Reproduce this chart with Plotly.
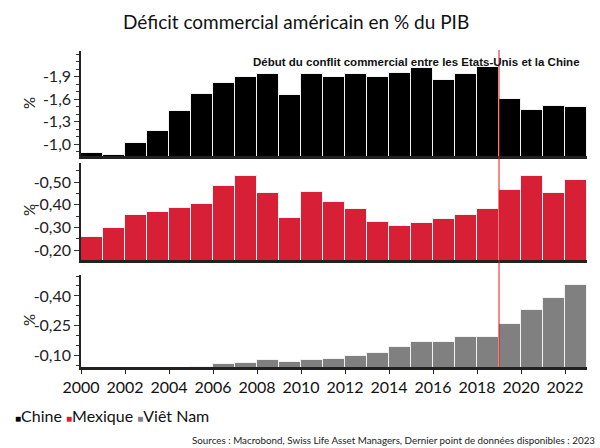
import plotly.graph_objects as go

# Données
annees = list(range(2000, 2023))
chine = [-0.88, -0.85, -1.01, -1.17, -1.44, -1.67, -1.81, -1.89, -1.93, -1.65,
         -1.93, -1.89, -1.94, -1.89, -1.95, -2.01, -1.85, -1.93, -2.03, -1.60,
         -1.46, -1.51, -1.50]
mexique = [-0.256, -0.296, -0.353, -0.369, -0.384, -0.401, -0.481, -0.526, -0.450, -0.340,
           -0.455, -0.413, -0.379, -0.323, -0.306, -0.319, -0.337, -0.354, -0.379, -0.464,
           -0.526, -0.451, -0.511]
vietnam = [-0.01, -0.01, -0.02, -0.03, -0.04, -0.045, -0.06, -0.066, -0.077, -0.07,
           -0.08, -0.085, -0.097, -0.115, -0.142, -0.17, -0.17, -0.195, -0.192, -0.26,
           -0.33, -0.388, -0.455]

ticks_chine = [-1.0, -1.3, -1.6, -1.9]
labels_chine = ["-1,0", "-1,3", "-1,6", "-1,9"]
ticks_mexique = [-0.2, -0.3, -0.4, -0.5]
labels_mexique = ["-0,20", "-0,30", "-0,40", "-0,50"]
ticks_vietnam = [-0.1, -0.25, -0.4]
labels_vietnam = ["-0,10", "-0,25", "-0,40"]
ticks_annees = list(range(2000, 2023, 2))

couleurs = {"Chine": "#000000", "Mexique": "#d71f35", "Viêt Nam": "#808080"}
H = 448.0
W_PLOT = 506.0
L = 81.0
police = "Lato"


def py(px_y):
    return (H - px_y) / H


def px_(px_x):
    return (px_x - L) / W_PLOT


fig = go.Figure()
for nom, vals, ax in [("Chine", chine, "1"), ("Mexique", mexique, "2"), ("Viêt Nam", vietnam, "3")]:
    fig.add_trace(go.Bar(
        x=annees, y=vals, name=nom, width=1, offset=0,
        marker=dict(color=couleurs[nom], line=dict(color="#f2f2f2", width=1)),
        xaxis="x" if ax == "1" else "x" + ax,
        yaxis="y" if ax == "1" else "y" + ax,
        showlegend=False,
    ))

axe_y = dict(showgrid=False, zeroline=False, showline=True, linecolor="#222", linewidth=1.5,
             ticks="outside", ticklen=5, tickcolor="#333",
             tickfont=dict(family=police, size=16, color="#222"))
axe_x = dict(range=[2000, 2023], showgrid=False, zeroline=False, showline=True,
             linecolor="#222", linewidth=2.5)

fig.update_layout(
    width=600, height=448,
    margin=dict(l=81, r=13, t=0, b=0),
    plot_bgcolor="white", paper_bgcolor="white",
    bargap=0,
    xaxis=dict(axe_x, domain=[0, 1], anchor="y", showticklabels=False, ticks=""),
    yaxis=dict(axe_y, domain=[py(156), py(51)], range=[-0.84, -2.24],
               tickvals=ticks_chine, ticktext=labels_chine,
               minor=dict(dtick=0.1, tick0=-1.0, ticks="outside", ticklen=3, tickcolor="#333")),
    xaxis2=dict(axe_x, domain=[0, 1], anchor="y2", showticklabels=False, ticks=""),
    yaxis2=dict(axe_y, domain=[py(260), py(163)], range=[-0.156, -0.584],
                tickvals=ticks_mexique, ticktext=labels_mexique,
                minor=dict(dtick=0.05, tick0=-0.2, ticks="outside", ticklen=3, tickcolor="#333")),
    xaxis3=dict(axe_x, domain=[0, 1], anchor="y3", tickvals=ticks_annees,
                ticktext=[str(a) for a in ticks_annees], ticks="outside", ticklen=4,
                tickcolor="#222", tickfont=dict(family=police, size=16, color="#111")),
    yaxis3=dict(axe_y, domain=[py(367), py(275)], range=[-0.0435, -0.505],
                tickvals=ticks_vietnam, ticktext=labels_vietnam,
                minor=dict(dtick=0.05, tick0=-0.1, ticks="outside", ticklen=3, tickcolor="#333")),
)

# Ligne rouge : début du conflit commercial
fig.add_shape(type="line", xref="x", yref="paper", x0=2019, x1=2019,
              y0=py(367), y1=py(50), line=dict(color="#e8141c", width=1))

annotations = [
    dict(text="Déficit commercial américain en % du PIB", x=px_(296), y=py(21),
         font=dict(family=police, size=19, color="#111")),
    dict(text="<b>Début du conflit commercial entre les Etats-Unis et la Chine</b>",
         x=px_(582), y=py(62), xanchor="right",
         font=dict(family="Arial, Liberation Sans", size=11.5, color="#111")),
    dict(text="%", x=px_(29), y=py(103), xanchor="center", textangle=-90,
         font=dict(family=police, size=15, color="#222")),
    dict(text="%", x=px_(29), y=py(210), xanchor="center", textangle=-90,
         font=dict(family=police, size=15, color="#222")),
    dict(text="%", x=px_(29), y=py(320), xanchor="center", textangle=-90,
         font=dict(family=police, size=15, color="#222")),
    dict(text=" ".join(f"<span style='color:{c};font-size:10px'>■</span>{n}" for n, c in couleurs.items()),
         x=px_(13), y=py(415), xanchor="left", font=dict(family=police, size=16, color="#111")),
    dict(text="Sources : Macrobond, Swiss Life Asset Managers, Dernier point de données disponibles : 2023",
         x=px_(597), y=py(440), xanchor="right", font=dict(family=police, size=9.8, color="#222")),
]
for a in annotations:
    fig.add_annotation(xref="paper", yref="paper", yanchor="middle", showarrow=False, **a)

fig.write_html("out.html", config={"displayModeBar": False},
               post_script="document.body.style.margin='0px';")
